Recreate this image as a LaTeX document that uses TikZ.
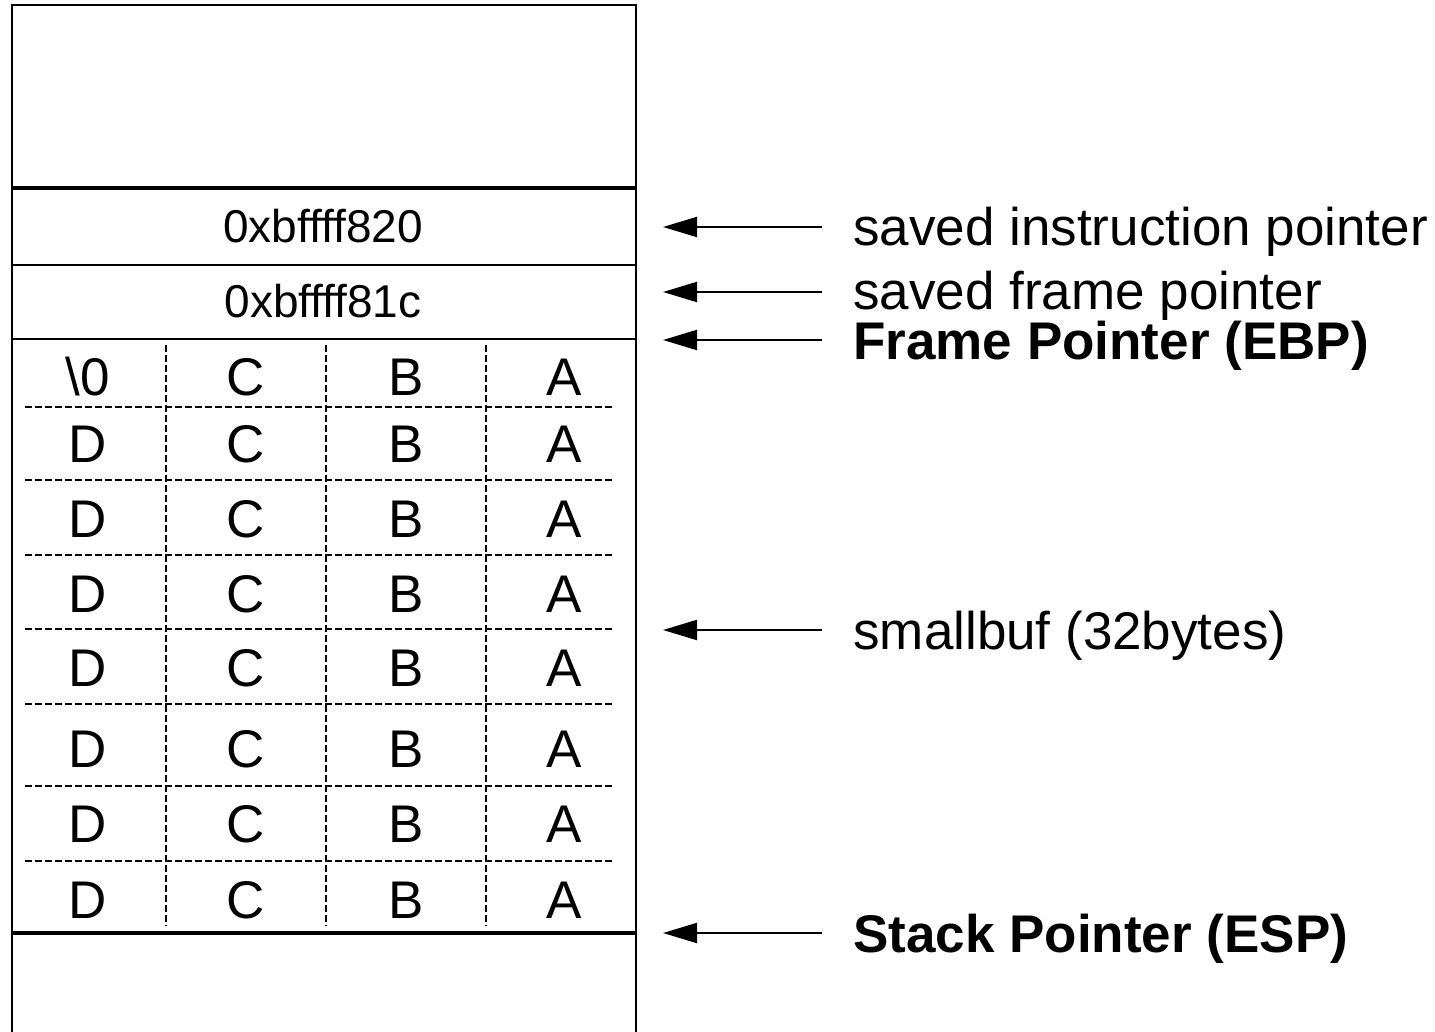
\documentclass[tikz,border=0pt]{standalone}
\usepackage{fontspec}
\setmainfont{Liberation Sans}
\usetikzlibrary{arrows.meta}
\begin{document}
\begin{tikzpicture}[x=0.5pt,y=-0.5pt,
  frame/.style={line width=1pt},
  heavy/.style={line width=1.8pt},
  gridline/.style={line width=0.6pt, dash pattern=on 3.5pt off 1.5pt},
  cell/.style={font=\fontsize{26.5}{30}\selectfont, inner sep=0pt,
    text height=19pt, text depth=0pt},
  addr/.style={font=\fontsize{23}{27}\selectfont, inner sep=0pt,
    text height=16.5pt, text depth=0pt},
  lbl/.style={font=\fontsize{26.5}{30}\selectfont, anchor=west, inner sep=0pt,
    text height=19pt, text depth=0pt},
  ptr/.style={line width=1pt, -{Triangle[length=17pt,width=10pt]}}
]
\useasboundingbox (0,0) rectangle (1435,1032);

% stack outline (open at the bottom)
\draw[frame] (12,1032) -- (12,5) -- (636,5) -- (636,1032);

% frame separators
\draw[heavy] (12,188) -- (636,188);
\draw[frame] (12,265) -- (636,265);
\draw[frame] (12,339) -- (636,339);
\draw[heavy] (12,933) -- (636,933);

% saved registers
\node[addr] (ret) at (323,226) {0xbffff820};
\node[addr] (sfp) at (323,301) {0xbffff81c};

% buffer grid
\foreach \y in {407,480,555,629,704,786,861}
  \draw[gridline] (25,\y) -- (612,\y);
\foreach \x in {166,326,486}
  \draw[gridline] (\x,345) -- (\x,926);

% buffer contents
\node[cell] (c11) at (88,376) {\textbackslash 0};
\node[cell] (c12) at (246,376) {C};
\node[cell] (c13) at (406,376) {B};
\node[cell] (c14) at (564,376) {A};
\foreach \y [count=\r from 2] in {443,518,593,667,748,823,899} {
  \node[cell] (c\r1) at (88,\y) {D};
  \node[cell] (c\r2) at (246,\y) {C};
  \node[cell] (c\r3) at (406,\y) {B};
  \node[cell] (c\r4) at (564,\y) {A};
}

% pointer labels
\node[lbl] (sip) at (853,227) {saved instruction pointer};
\node[lbl] (sfpl) at (853,290) {saved frame pointer};
\node[lbl] (ebp) at (853,340) {\bfseries Frame Pointer (EBP)};
\node[lbl] (buf) at (853,630) {smallbuf (32bytes)};
\node[lbl] (esp) at (853,933) {\bfseries Stack Pointer (ESP)};

% arrow targets beside the stack
\coordinate (tsip) at (663,227);
\coordinate (tsfp) at (663,292);
\coordinate (tebp) at (663,340);
\coordinate (tbuf) at (663,630);
\coordinate (tesp) at (663,933);

\draw[ptr] ([xshift=-15.5pt]sip.west) -- (tsip);
\draw[ptr] ([xshift=-15.5pt,yshift=-1pt]sfpl.west) -- (tsfp);
\draw[ptr] ([xshift=-15.5pt]ebp.west) -- (tebp);
\draw[ptr] ([xshift=-15.5pt]buf.west) -- (tbuf);
\draw[ptr] ([xshift=-15.5pt]esp.west) -- (tesp);
\end{tikzpicture}
\end{document}
